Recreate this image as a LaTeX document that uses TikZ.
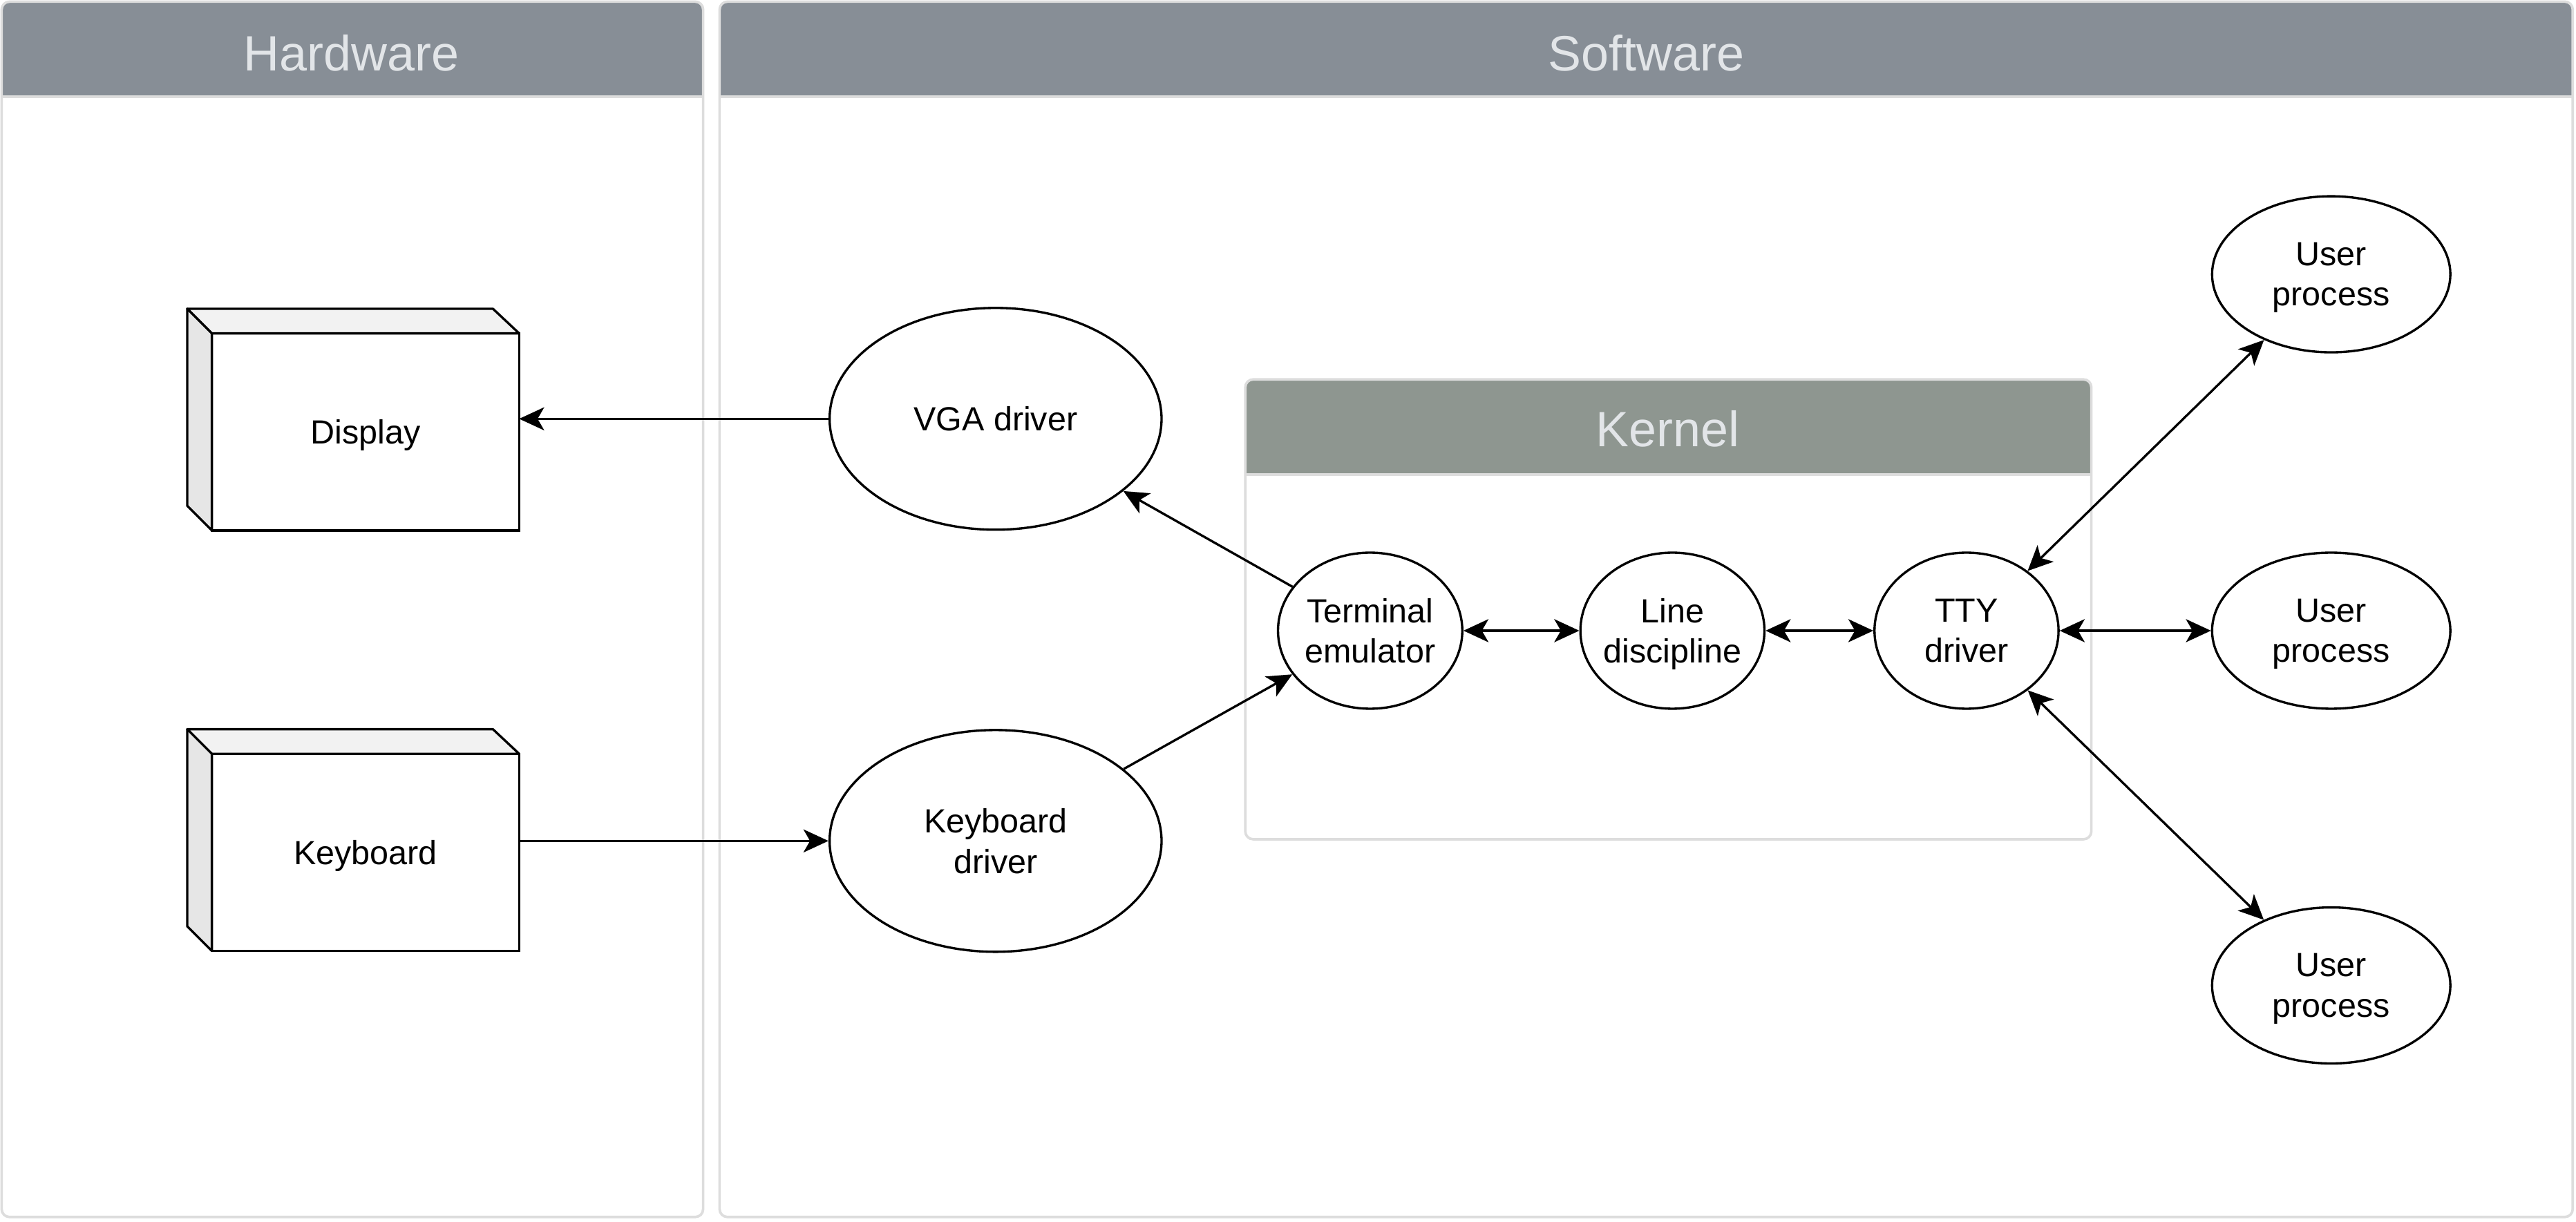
\documentclass[tikz,border=0pt]{standalone}
\usepackage{fontspec}
\setmainfont{Liberation Sans}
\usetikzlibrary{arrows.meta,calc,shapes.geometric}
\definecolor{hwgrey}{HTML}{878E96}
\definecolor{kngrey}{HTML}{8E9690}
\definecolor{titletext}{HTML}{E2E5E8}
\definecolor{panelline}{HTML}{DDDDDD}
\definecolor{sidegrey}{HTML}{E6E6E6}
\definecolor{topgrey}{HTML}{F2F2F2}
\begin{document}
\begin{tikzpicture}[x = .025cm, y = -.025cm,
	every node/.style = {font=\fontsize{14.5}{17.5}\selectfont, align=center, text depth=0pt},
	title/.style = {font=\fontsize{21.5}{26}\selectfont, text=titletext},
	panel/.style = {draw=panelline, line width=1.1pt, rounded corners=.12cm},
	device/.style = {draw, fill=white, line width=1pt, outer sep=0pt, minimum width=4.675cm, minimum height=3cm},
	proc/.style = {draw, ellipse, line width=1pt, inner sep=0pt, minimum width=2.8cm, minimum height=2.375cm},
	user/.style = {proc, minimum width=3.625cm},
	driver/.style = {proc, minimum width=5.05cm, minimum height=3.375cm},
	link/.style = {line width=1pt, -{Stealth[length=.38cm, width=.35cm, inset=.1cm]}},
	duplex/.style = {line width=1pt, {Stealth[length=.38cm, width=.35cm, inset=.1cm]}-{Stealth[length=.38cm, width=.35cm, inset=.1cm]}}]
	\useasboundingbox (0,0) rectangle (1568,744);
	% panels
	\foreach \xa/\xb/\ya/\yb/\hc in {1/428/1/741/hwgrey, 438/1566/1/741/hwgrey, 758/1273/231/511/kngrey} {
		\fill[white, rounded corners=.12cm] (\xa,\ya) rectangle (\xb,\yb);
		\begin{scope}
			\clip (\xa,\ya) rectangle (\xb,\ya+58);
			\fill[\hc, rounded corners=.12cm] (\xa,\ya) rectangle (\xb,\ya+90);
		\end{scope}
		\draw[panelline, line width=1.1pt] (\xa,\ya+58) -- (\xb,\ya+58);
		\draw[panel] (\xa,\ya) rectangle (\xb,\yb);
	}
	\node[title] (hwtitle) at (214,32) {Hardware};
	\node[title] (swtitle) at (1002,32) {Software};
	\node[title] (kntitle) at (1015,261) {Kernel};
	% hardware
	\node[device] (disp) at (222.5,263) {Display};
	\node[device] (keyb) at (222.5,519) {Keyboard};
	\foreach \d in {disp, keyb} {
		\draw[line width=1pt, fill=topgrey, line join=round] (\d.north west) -- ++(-15,-15) -- ($(\d.north east)+(-16,-15)$) -- (\d.north east) -- cycle;
		\draw[line width=1pt, fill=sidegrey, line join=round] (\d.north west) -- ++(-15,-15) -- ($(\d.south west)+(-15,-15)$) -- (\d.south west) -- cycle;
	}
	% drivers
	\node[driver] (vga) at (606,255) {VGA driver};
	\node[driver] (kbd) at (606,512) {Keyboard\\driver};
	% kernel
	\node[proc] (term) at (834,384) {Terminal\\emulator};
	\node[proc, inner xsep=-2pt] (line) at (1018,384) {Line\\discipline};
	\node[proc] (tty) at (1197,384) {TTY\\driver};
	% user space
	\node[user] (user1) at (1419,167) {User\\process};
	\node[user] (user2) at (1419,384) {User\\process};
	\node[user] (user3) at (1419,600) {User\\process};
	% connectors
	\draw[link] (vga.west) -- (vga.west -| disp.east);
	\draw[link] (term) -- (vga);
	\draw[link] (keyb.east |- kbd.west) -- (kbd.west);
	\draw[link] (kbd) -- (term);
	\draw[duplex] (term) -- (line);
	\draw[duplex] (line) -- (tty);
	\draw[duplex] (tty) -- (user1);
	\draw[duplex] (tty) -- (user2);
	\draw[duplex] (tty) -- (user3);
\end{tikzpicture}
\end{document}
